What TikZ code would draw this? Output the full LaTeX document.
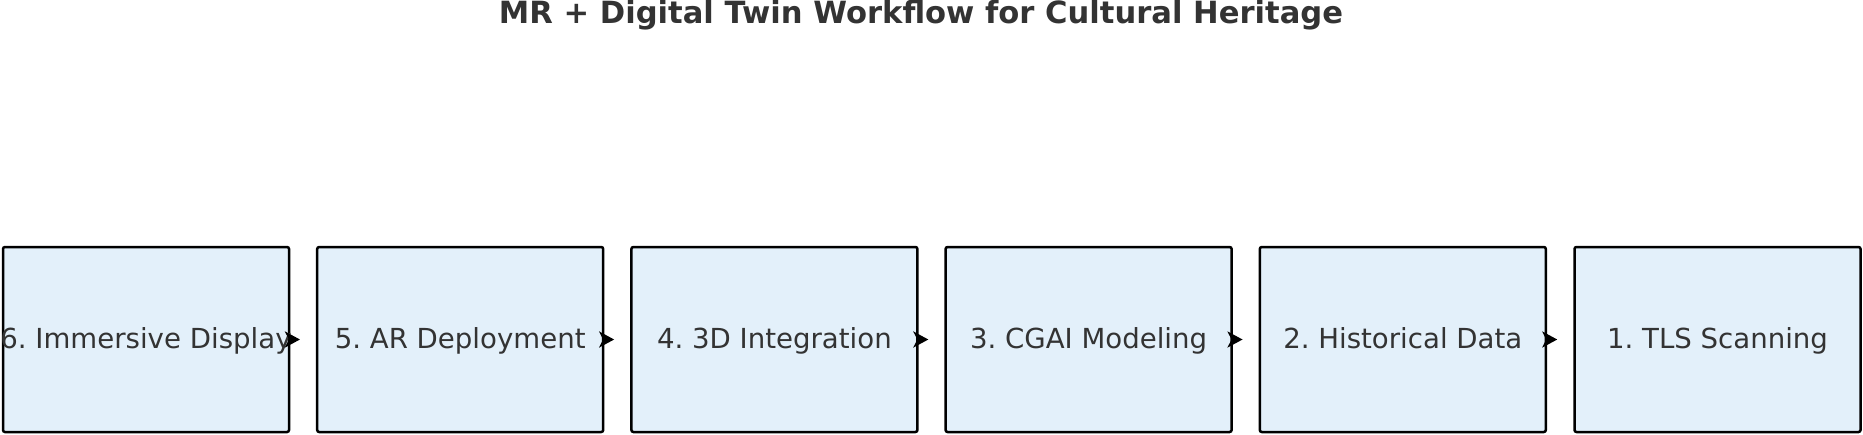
\documentclass[tikz,border=0pt]{standalone}
\usepackage{fontspec}
\setmainfont{DejaVu Sans}
\usetikzlibrary{arrows.meta}
\definecolor{boxfill}{HTML}{E3F0FA}
\definecolor{txt}{HTML}{333333}
\newcommand\steplabel[1]{\makebox[0pt]{#1}}
\tikzset{
  stagebox/.style={draw=black, fill=boxfill, line width=1.25pt, rounded corners=1pt,
    minimum width=143pt, minimum height=92.5pt, inner sep=0pt,
    text=txt, font=\frenchspacing\fontsize{13.8pt}{16pt}\selectfont, text height=10.4pt, text depth=1.5pt},
  flow/.style={line width=1.5pt, -{Stealth[length=7.5pt,width=8pt,inset=2pt]}, shorten >=8pt},
  ttl/.style={text=txt, font=\bfseries\fontsize{15.3pt}{18pt}\selectfont, inner sep=0pt, anchor=base}
}
\begin{document}
\frenchspacing
\begin{tikzpicture}[x=0.5pt,y=-0.5pt]
\useasboundingbox (0,0) rectangle (1863,434);
\node[ttl] (title) at (921,23) {MR + Digital Twin Workflow for Cultural Heritage};
\node[stagebox] (b6) at (146,339.5) {\steplabel{6. Immersive Display}};
\node[stagebox] (b5) at (460.2,339.5) {\steplabel{5. AR Deployment}};
\node[stagebox] (b4) at (774.4,339.5) {\steplabel{4. 3D Integration}};
\node[stagebox] (b3) at (1088.6,339.5) {\steplabel{3. CGAI Modeling}};
\node[stagebox] (b2) at (1402.8,339.5) {\steplabel{2. Historical Data}};
\node[stagebox] (b1) at (1717.5,339.5) {\steplabel{1. TLS Scanning}};
\draw[flow] (b6.east) -- (b5.west);
\draw[flow] (b5.east) -- (b4.west);
\draw[flow] (b4.east) -- (b3.west);
\draw[flow] (b3.east) -- (b2.west);
\draw[flow] (b2.east) -- (b1.west);
\end{tikzpicture}
\end{document}
